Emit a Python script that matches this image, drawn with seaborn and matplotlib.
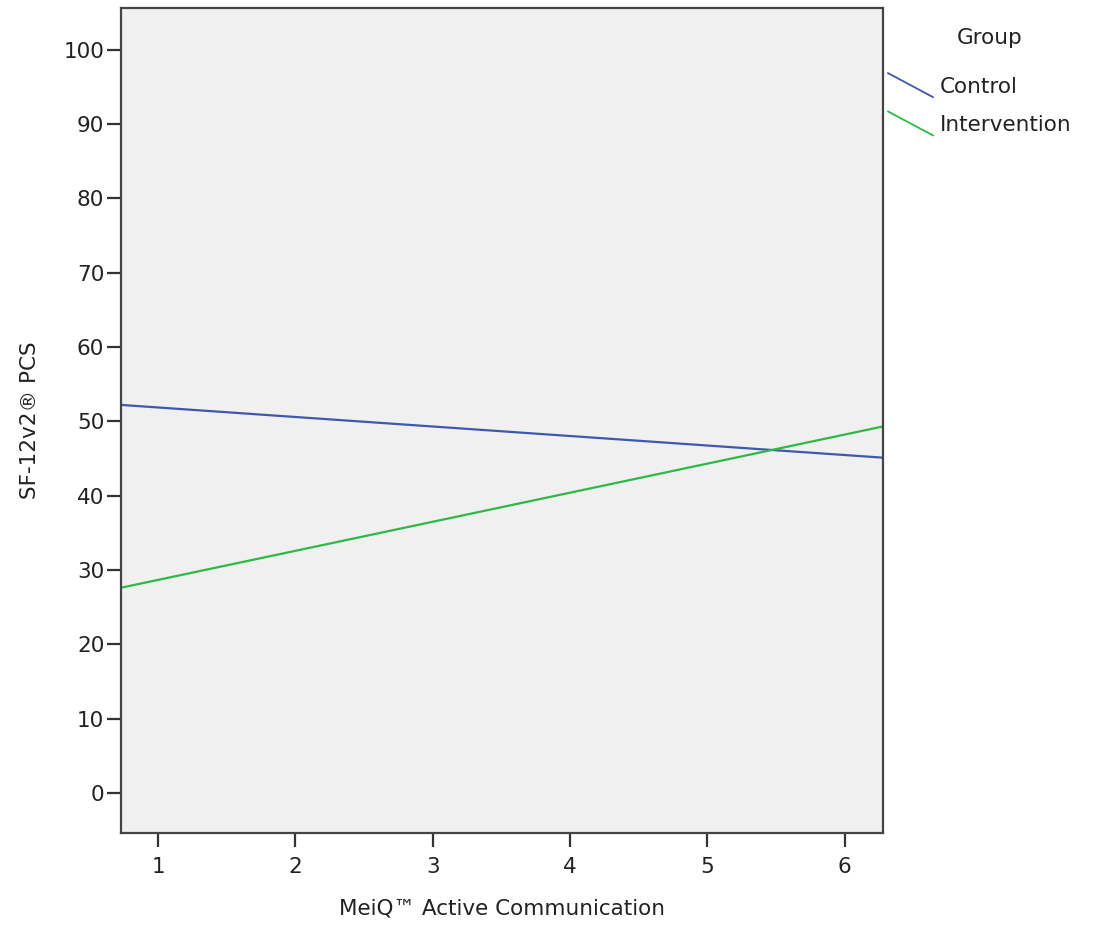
import numpy as np
import pandas as pd
import matplotlib
matplotlib.use("Agg")
import matplotlib.pyplot as plt
import seaborn as sns
from matplotlib.legend_handler import HandlerLine2D
from matplotlib.lines import Line2D

# fit lines (endpoints at the x-axis limits)
x_ends = [0.73, 6.28]
control_y = [52.2, 45.1]
intervention_y = [27.6, 49.3]
groups = ["Control", "Intervention"]
colors = {"Control": "#3E58AC", "Intervention": "#2EB848"}

df = pd.DataFrame({
    "x": x_ends * 2,
    "y": control_y + intervention_y,
    "Group": ["Control"] * 2 + ["Intervention"] * 2,
})


class DiagonalHandler(HandlerLine2D):
    # SPSS-style legend keys: a short line sloping down to the right
    def create_artists(self, legend, orig_handle, xdescent, ydescent,
                       width, height, fontsize, trans):
        ln = Line2D([-xdescent, width - xdescent],
                    [height * 1.3 - ydescent, -height * 0.3 - ydescent],
                    color=orig_handle.get_color(), lw=orig_handle.get_linewidth())
        ln.set_transform(trans)
        return [ln]


sns.set_style("ticks")
plt.rcParams["font.family"] = ["DejaVu Sans"]
txt = "#222222"

fig = plt.figure(figsize=(11.03, 9.35), dpi=100)
ax = fig.add_axes([0.1097, 0.1091, 0.6908, 0.8823])
ax.set_facecolor("#F0F0F0")

sns.lineplot(data=df, x="x", y="y", hue="Group", palette=colors,
             hue_order=groups, lw=1.6, ax=ax, legend=False)

ax.set_xlim(0.73, 6.28)
ax.set_ylim(-5.4, 105.6)
ax.set_xticks(range(1, 7))
ax.set_yticks(range(0, 101, 10))
ax.tick_params(axis="both", labelsize=15.5, length=10, width=1.6, color="#333333",
               labelcolor=txt)
ax.tick_params(axis="y", pad=2)
ax.tick_params(axis="x", pad=7)
for s in ax.spines.values():
    s.set_color("#444444")
    s.set_linewidth(1.6)

ax.set_xlabel("MeiQ\u2122 Active Communication", fontsize=15.5, labelpad=16,
              color=txt)
ax.set_ylabel("SF-12v2\u00ae PCS", fontsize=15.5, labelpad=17, color=txt)

fig.text(0.897, 0.9594, "Group", fontsize=15.5, color=txt,
         ha="center", va="center")
handles = [Line2D([], [], color=colors[g], lw=1.3) for g in groups]
fig.legend(handles, groups, loc="upper left", bbox_to_anchor=(0.805, 0.918),
           frameon=False, fontsize=15.5, borderpad=0, borderaxespad=0,
           handlelength=2.1, handletextpad=0.33, labelspacing=0.85,
           labelcolor=txt, handler_map={Line2D: DiagonalHandler()})

fig.savefig("out.png", dpi=100)
